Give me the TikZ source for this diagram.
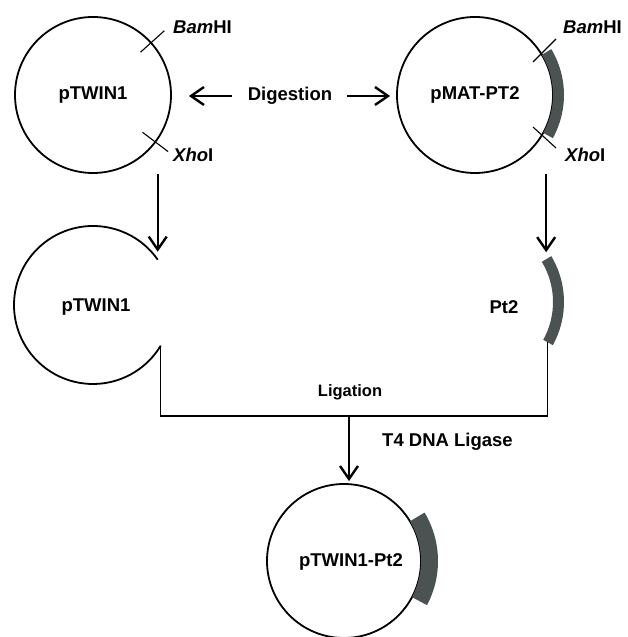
\documentclass[tikz,border=0pt]{standalone}
\usepackage{fontspec}
\setmainfont{Liberation Sans}
\usetikzlibrary{arrows.meta}
\definecolor{insertgray}{RGB}{74,83,81}

\begin{document}
\begin{tikzpicture}[x=1pt,y=1pt,>={Straight Barb[length=13pt,width=18pt]},
  plasmid/.style={draw,circle,line width=1.8pt,minimum size=156pt,inner sep=0pt,
    font=\fontsize{18.5}{22}\selectfont\bfseries},
  insert/.style={fill=insertgray},
  cut/.style={line width=1.1pt},
  flow/.style={->,line width=2.4pt},
  lbl/.style={font=\fontsize{18.5}{22}\selectfont\bfseries,inner sep=0pt},
  bracket/.style={line width=1.3pt}]
  \useasboundingbox (0,0) rectangle (627,637);
  % digestion of the two plasmids
  \node[plasmid] (tw1) at (93,542) {pTWIN1};
  \node[plasmid] (mat) at (475,542) {pMAT-PT2};
  \path[insert] ([shift={(31:78)}]mat.center) arc (31:-29:78pt)
    -- ([shift={(-29:89)}]mat.center) arc (-29:31:89pt) -- cycle;
  \draw[cut] ([shift={(42:64)}]tw1.center) -- ([shift={(42:96)}]tw1.center);
  \draw[cut] ([shift={(-37:62)}]tw1.center) -- ([shift={(-37:94)}]tw1.center);
  \draw[cut] ([shift={(58,33)}]mat.center) -- ++(23,23);
  \draw[cut] ([shift={(58,-32)}]mat.center) -- ++(23,-21);
  \node[lbl,anchor=west] (bam1) at (173,610) {\textit{Bam}HI};
  \node[lbl,anchor=west] (xho1) at (173,482) {\textit{Xho}I};
  \node[lbl,anchor=west] (bam2) at (563,610) {\textit{Bam}HI};
  \node[lbl,anchor=west] (xho2) at (565,482) {\textit{Xho}I};
  \node[lbl] (dig) at (290,541) {Digestion};
  \draw[flow,shorten <=16pt,shorten >=17pt] (dig.west) -- (dig.west -| tw1.east);
  \draw[flow,shorten <=15pt,shorten >=6pt] (dig.east) -- (dig.east -| mat.west);
  % cut vector and insert
  \coordinate (tw2) at (93,332);
  \coordinate (tw2up) at ([shift={(35:79)}]tw2);
  \coordinate (tw2lo) at ([shift={(-31:79)}]tw2);
  \draw[line width=1.8pt] (tw2up) arc (35:329:79pt);
  \node[lbl] (tw2lbl) at (96,330) {pTWIN1};
  \coordinate (pt2) at (475,335);
  \coordinate (pt2up) at ([shift={(31:83)}]pt2);
  \coordinate (pt2lo) at ([shift={(-29:83)}]pt2);
  \path[insert] ([shift={(31:78)}]pt2) arc (31:-29:78pt)
    -- ([shift={(-29:89)}]pt2) arc (-29:31:89pt) -- cycle;
  \node[lbl] (pt2lbl) at (504,330) {Pt2};
  \draw[flow,shorten >=8pt] (tw1.south -| tw2up) -- (tw2up);
  \draw[flow,shorten >=7pt] (mat.south -| pt2up) -- (pt2up);
  % ligation
  \coordinate (join) at (349,221);
  \draw[bracket] (tw2lo) |- (join) -| (pt2lo);
  \node[lbl,font=\fontsize{16.5}{20}\selectfont\bfseries] (lig) at (350,245) {Ligation};
  \node[lbl,anchor=west] (lig4) at (382,195) {T4 DNA Ligase};
  \node[plasmid,minimum size=154pt] (res) at (344,76) {};
  \path[insert] ([shift={(31:77)}]res.center) arc (31:-28:77pt)
    -- ([shift={(-28:94)}]res.center) arc (-28:31:94pt) -- cycle;
  \node[lbl] (reslbl) at (351,75) {pTWIN1-Pt2};
  \draw[flow,shorten >=2pt] (join) -- (join |- res.north);
\end{tikzpicture}
\end{document}
